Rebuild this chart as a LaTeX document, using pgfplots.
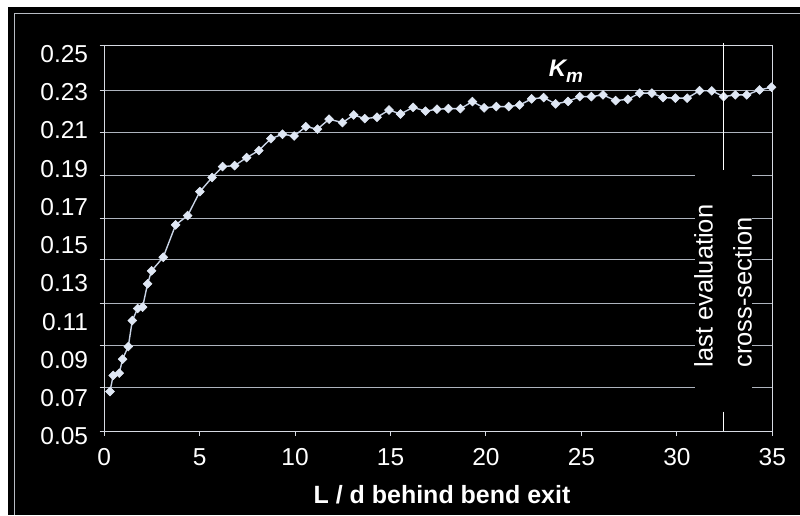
\documentclass[border=0pt]{standalone}
\usepackage{pgfplots}
\pgfplotsset{compat=1.18}
\usepackage{fontspec}
\setmainfont{Liberation Sans}
\definecolor{gridc}{HTML}{AEB4BE}
\definecolor{axisc}{HTML}{D6DAE2}
\definecolor{framec}{HTML}{B8BCC4}
\definecolor{linec}{HTML}{C9D4E6}
\definecolor{markc}{HTML}{DFE7F4}
\begin{document}
\begin{tikzpicture}[x=1pt,y=1pt]
\fill[white] (0,0) rectangle (800,515);
\fill[black] (8,0) rectangle (800,508);
\draw[line width=1pt, color=framec] (14.5,0) -- (14.5,501) -- (800,501);
\begin{axis}[
  at={(104.3pt,83.5pt)}, anchor=south west,
  scale only axis, width=668.5pt, height=385.8pt,
  xmin=0, xmax=35, ymin=0.05272, ymax=0.25434,
  xtick={0,5,...,35},
  ytick={0.05272,0.07582,0.09740,0.11971,0.14234,0.16414,0.18661,0.20887,0.23082,0.25434},
  yticklabels={},
  ymajorgrids, grid style={gridc, line width=0.9pt},
  axis line style={axisc, line width=1.2pt},
  tick style={axisc, line width=1pt},
  tick align=outside, major tick length=4.5pt,
  xtick pos=bottom, ytick pos=left,
  ticklabel style={font=\fontsize{24.5}{28}\selectfont, text=white},
  /pgf/number format/assume math mode=true,
  xticklabel style={anchor=base, yshift=-30pt},
  xlabel={L / d behind bend exit},
  xlabel style={font=\bfseries\fontsize{25}{30}\selectfont, text=white,
    at={(axis description cs:0.5,0)}, anchor=base, yshift=-72.5pt, xshift=3.7pt},
  clip=false,
]
\addplot[color=linec, line width=1.4pt, mark=square*, mark size=3.1pt,
  mark options={fill=markc, draw=markc, rotate=45, line width=0.6pt}] coordinates {
(0.30,0.0735) (0.47,0.0819) (0.79,0.0831) (0.96,0.0904) (1.26,0.0970)
(1.47,0.1106) (1.75,0.1169) (2.01,0.1176) (2.27,0.1298) (2.48,0.1366)
(3.09,0.1437) (3.74,0.1606) (4.37,0.1655) (5.01,0.1780) (5.65,0.1854)
(6.20,0.1911) (6.83,0.1916) (7.46,0.1958) (8.10,0.1995) (8.73,0.2057)
(9.34,0.2080) (9.95,0.2071) (10.56,0.2120) (11.17,0.2107) (11.78,0.2159)
(12.48,0.2141) (13.07,0.2181) (13.65,0.2162) (14.29,0.2169) (14.92,0.2207)
(15.52,0.2186) (16.18,0.2221) (16.83,0.2201) (17.43,0.2211) (18.03,0.2214)
(18.66,0.2214) (19.29,0.2251) (19.90,0.2218) (20.54,0.2225) (21.19,0.2225)
(21.76,0.2233) (22.39,0.2265) (23.02,0.2272) (23.65,0.2239) (24.30,0.2252)
(24.91,0.2277) (25.52,0.2277) (26.13,0.2286) (26.79,0.2256) (27.43,0.2263)
(28.05,0.2295) (28.69,0.2295) (29.27,0.2272) (29.92,0.2269) (30.54,0.2269)
(31.19,0.2308) (31.83,0.2307) (32.45,0.2277) (33.06,0.2286) (33.66,0.2286)
(34.33,0.2312) (34.96,0.2326)
};
\foreach \v in {0.05,0.07,0.09,0.11,0.13,0.15,0.17,0.19,0.21,0.23,0.25}{
  \edef\temp{\noexpand\node[anchor=east, inner sep=0pt, xshift=-16pt, text=white,
    font=\noexpand\fontsize{24.5}{28}\noexpand\selectfont] at (axis cs:0,\v) {\v};}
  \temp
}
\end{axis}
\fill[black] (695,103) rectangle (752,345);
\draw[white, line width=1.5pt] (724,471.7) -- (724,345) (724,103) -- (724,83.5);
\node[rotate=90, anchor=base west, inner sep=0pt, text=white,
  font=\fontsize{25.5}{30}\selectfont] at (713,147) {last evaluation};
\node[rotate=90, anchor=base west, inner sep=0pt, text=white,
  font=\fontsize{25.5}{30}\selectfont] at (752,147) {cross-section};
\node[anchor=base west, inner sep=0pt, text=white,
  font=\bfseries\itshape\fontsize{24}{28}\selectfont] at (549,438.3)
  {K\raisebox{-6.3pt}{\fontsize{19}{20}\selectfont m}};
\end{tikzpicture}
\end{document}
